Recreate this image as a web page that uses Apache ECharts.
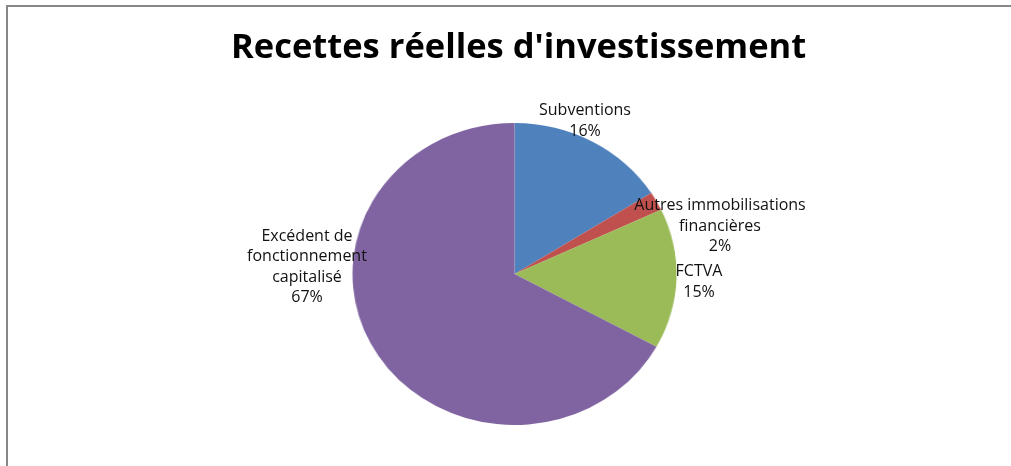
<!DOCTYPE html>
<html><head><meta charset="utf-8">
<script src="https://cdn.jsdelivr.net/npm/echarts@6/dist/echarts.min.js"></script>
<style>
html,body{margin:0;padding:0;background:#fff;}
#wrap{position:relative;width:1011px;height:466px;overflow:hidden;}
#pie{position:absolute;left:0;top:0;width:1011px;height:466px;transform:scaleX(1.073);transform-origin:514.5px 274px;}
#over{position:absolute;left:0;top:0;width:1011px;height:466px;}
</style></head>
<body><div id="wrap"><div id="pie"></div><div id="over"></div></div>
<script>
const titleText = "Recettes réelles d'investissement";
const categories = ["Subventions", "Autres immobilisations\nfinancières", "FCTVA", "Excédent de\nfonctionnement\ncapitalisé"];
const values = [16, 2, 15, 67];
const colors = ["#4F81BD", "#C0504D", "#9BBB59", "#8064A2"];

const data = categories.map((c, i) => ({ name: c, value: values[i] }));
const center = [514.5, 274];
const radius = 151;
const FONT = "Open Sans";

const pieChart = echarts.init(document.getElementById('pie'), null, { renderer: 'canvas' });
pieChart.setOption({
  animation: false,
  color: colors,
  series: [{
    type: 'pie', center: center, radius: radius, startAngle: 90, clockwise: true,
    data: data, label: { show: false }, labelLine: { show: false },
    itemStyle: { borderWidth: 0 }, emphasis: { disabled: true }
  }]
});

// label anchors (block centers) for each slice
const labelPos = [[585, 121], [720, 226], [699, 282], [307, 267]];

const over = echarts.init(document.getElementById('over'), null, { renderer: 'canvas' });
over.setOption({
  animation: false,
  title: {
    text: titleText, left: 226, top: 26,
    textStyle: { fontFamily: FONT, fontSize: 34.5, fontWeight: 'bold', color: '#000' }
  },
  graphic: [{
    type: 'rect', shape: { x: 7, y: 6, width: 1200, height: 700 },
    style: { fill: 'none', stroke: '#878787', lineWidth: 2 }, silent: true
  }],
  series: [{
    type: 'pie', center: center, radius: radius, startAngle: 90, clockwise: true,
    data: data, silent: true,
    itemStyle: { color: 'rgba(0,0,0,0)' },
    label: {
      show: true, formatter: '{b}\n{d}%', fontFamily: FONT, fontSize: 16,
      lineHeight: 20.5, color: '#111', align: 'center'
    },
    labelLine: { show: false },
    labelLayout: function (p) {
      const pos = labelPos[p.dataIndex];
      return { x: pos[0], y: pos[1], align: 'center', verticalAlign: 'middle' };
    }
  }]
});
</script></body></html>
